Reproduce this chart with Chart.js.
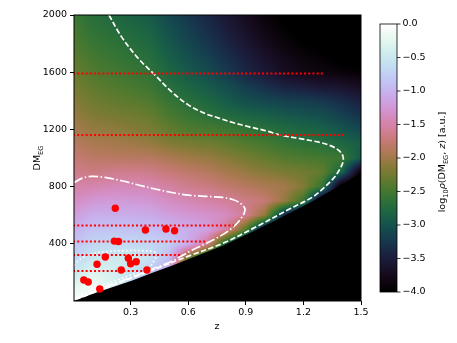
<!DOCTYPE html>
<html>
<head>
<meta charset="utf-8">
<script src="https://cdn.jsdelivr.net/npm/chart.js@4.4.1/dist/chart.umd.min.js"></script>
<style>
  html, body { margin: 0; padding: 0; background: #fff; }
</style>
</head>
<body>
<canvas id="dmChart" width="457" height="343"></canvas>
<script>
// axis ticks
const zTicks = [0.3, 0.6, 0.9, 1.2, 1.5];
const dmTicks = [400, 800, 1200, 1600, 2000];
const cbTicks = [0, -0.5, -1, -1.5, -2, -2.5, -3, -3.5, -4];

// log10 density grid: one row per DM value, one column per z value
const gridZ = [0, 0.1, 0.2, 0.3, 0.4, 0.5, 0.6, 0.7, 0.8, 0.9, 1.0, 1.1, 1.2, 1.3, 1.4, 1.5];
const gridDM = [0, 100, 200, 300, 400, 500, 600, 700, 800, 900, 1000, 1100, 1200, 1300, 1400, 1500, 1600, 1700, 1800, 1900, 2000];
const logDensity = [
  [0.00, -0.30, -0.50, -0.70, -0.80, -1.20, -2.60, -3.00, -3.30, -3.60, -3.70, -3.80, -4.00, -4.00, -4.10, -4.20],
  [-0.22, -0.12, -0.30, -0.70, -0.80, -1.20, -2.60, -3.00, -3.30, -3.60, -3.70, -3.80, -4.00, -4.00, -4.10, -4.20],
  [-0.50, -0.30, -0.37, -0.55, -0.80, -1.20, -2.60, -3.00, -3.30, -3.60, -3.70, -3.80, -4.00, -4.00, -4.10, -4.20],
  [-0.70, -0.52, -0.47, -0.45, -0.56, -0.92, -2.30, -3.00, -3.30, -3.60, -3.70, -3.80, -4.00, -4.00, -4.10, -4.20],
  [-0.87, -0.70, -0.67, -0.67, -0.69, -0.78, -1.04, -1.60, -2.90, -3.60, -3.70, -3.80, -4.00, -4.00, -4.10, -4.20],
  [-1.03, -0.87, -0.86, -0.87, -0.89, -0.98, -1.05, -1.16, -1.55, -2.40, -3.70, -3.80, -4.00, -4.00, -4.10, -4.20],
  [-1.20, -1.05, -1.04, -1.05, -1.08, -1.18, -1.25, -1.30, -1.38, -1.60, -2.10, -3.40, -4.00, -4.00, -4.10, -4.20],
  [-1.37, -1.25, -1.22, -1.23, -1.26, -1.36, -1.44, -1.50, -1.58, -1.66, -1.75, -2.05, -2.55, -4.00, -4.10, -4.20],
  [-1.51, -1.47, -1.42, -1.42, -1.44, -1.54, -1.62, -1.68, -1.78, -1.86, -1.93, -1.98, -2.16, -2.60, -4.10, -4.20],
  [-1.63, -1.68, -1.64, -1.62, -1.64, -1.73, -1.80, -1.86, -1.96, -2.05, -2.13, -2.20, -2.25, -2.33, -2.85, -4.00],
  [-1.74, -1.82, -1.84, -1.85, -1.86, -1.93, -2.00, -2.05, -2.14, -2.23, -2.31, -2.40, -2.45, -2.49, -2.55, -2.95],
  [-1.85, -1.94, -1.97, -2.01, -2.06, -2.16, -2.21, -2.25, -2.33, -2.41, -2.49, -2.58, -2.64, -2.69, -2.80, -2.90],
  [-1.96, -2.06, -2.09, -2.14, -2.19, -2.33, -2.43, -2.47, -2.53, -2.61, -2.68, -2.76, -2.82, -2.87, -2.99, -3.11],
  [-2.05, -2.17, -2.21, -2.26, -2.31, -2.46, -2.58, -2.66, -2.76, -2.83, -2.88, -2.95, -3.00, -3.05, -3.17, -3.30],
  [-2.13, -2.26, -2.32, -2.37, -2.43, -2.58, -2.70, -2.80, -2.92, -3.04, -3.11, -3.16, -3.20, -3.24, -3.35, -3.48],
  [-2.21, -2.34, -2.41, -2.47, -2.54, -2.70, -2.82, -2.92, -3.05, -3.20, -3.32, -3.45, -3.50, -3.58, -3.62, -3.70],
  [-2.28, -2.42, -2.49, -2.55, -2.63, -2.80, -2.94, -3.06, -3.22, -3.40, -3.55, -3.70, -3.80, -3.85, -3.90, -3.95],
  [-2.35, -2.49, -2.56, -2.63, -2.71, -2.88, -3.03, -3.16, -3.32, -3.48, -3.64, -3.78, -3.88, -3.95, -4.05, -4.10],
  [-2.42, -2.56, -2.63, -2.70, -2.78, -2.96, -3.11, -3.25, -3.42, -3.58, -3.74, -3.88, -3.98, -4.05, -4.15, -4.29],
  [-2.48, -2.63, -2.71, -2.77, -2.85, -3.03, -3.18, -3.33, -3.50, -3.66, -3.83, -3.96, -4.05, -4.12, -4.27, -4.44],
  [-2.54, -2.69, -2.77, -2.85, -2.93, -3.10, -3.25, -3.40, -3.57, -3.73, -3.90, -4.03, -4.11, -4.22, -4.39, -4.56]
];

// lower cut-off of the distribution (black below)
const edgeZ = [0, 0.1, 0.2, 0.305, 0.41, 0.514, 0.61, 0.783, 0.957, 1.13, 1.25, 1.428, 1.5];
const edgeDM = [0, 49, 95, 142, 196, 247, 298, 388, 498, 615, 700, 836, 900];

// contours
const outerZ = [0.187, 0.253, 0.340, 0.427, 0.514, 0.602, 0.688, 0.755, 0.832, 0.918, 1.006, 1.080, 1.183, 1.288, 1.358, 1.398, 1.408, 1.393, 1.358, 1.305, 1.253, 1.183, 1.130, 0.957, 0.783, 0.608, 0.410, 0.200, 0.020];
const outerDM = [2000, 1847, 1696, 1580, 1463, 1370, 1311, 1281, 1248, 1218, 1190, 1160, 1135, 1108, 1076, 1034, 988, 930, 860, 790, 731, 680, 645, 521, 405, 317, 215, 108, 14];
const midZ = [0.005, 0.050, 0.096, 0.166, 0.253, 0.340, 0.427, 0.514, 0.602, 0.700, 0.780, 0.835, 0.875, 0.896, 0.870, 0.817, 0.748, 0.678, 0.608, 0.514, 0.410, 0.305, 0.200, 0.100, 0.020];
const midDM = [828, 860, 871, 864, 841, 811, 783, 759, 740, 731, 724, 708, 680, 638, 568, 498, 440, 393, 347, 278, 222, 166, 115, 64, 20];
const innerZ = [0.005, 0.030, 0.060, 0.096, 0.166, 0.250, 0.305, 0.360, 0.410, 0.436, 0.441, 0.430, 0.400, 0.350, 0.300, 0.236, 0.166, 0.096, 0.035, 0.005];
const innerDM = [250, 285, 310, 328, 345, 352, 353, 352, 347, 335, 318, 300, 240, 205, 180, 150, 118, 82, 40, 15];

// FRBs
const frbZ = [0.220, 0.377, 0.484, 0.529, 0.215, 0.237, 0.168, 0.125, 0.288, 0.300, 0.329, 0.251, 0.385, 0.056, 0.079, 0.139];
const frbDM = [649, 496, 503, 491, 419, 416, 308, 257, 299, 260, 274, 217, 217, 147, 133, 84];

// DM-only events: DM and the largest z allowed
const limitDM = [1591, 1160, 528, 416, 321, 210];
const limitZ = [1.305, 1.419, 0.838, 0.69, 0.56, 0.40];

const VMIN = -4, VMAX = 0;
const FONT = '"DejaVu Sans", sans-serif';

// matplotlib 'cubehelix' colormap
function cubehelix(t) {
    t = Math.min(Math.max(t, 0), 1);
    const phi = 2 * Math.PI * (0.5 / 3 - 1.5 * t);
    const a = t * (1 - t) / 2;
    const c = Math.cos(phi), s = Math.sin(phi);
    const r = t + a * (-0.14861 * c + 1.78277 * s);
    const g = t + a * (-0.29227 * c - 0.90649 * s);
    const b = t + a * (1.97294 * c);
    return [r, g, b].map(v => Math.round(255 * Math.min(Math.max(v, 0), 1)));
}
const lut = [];
for (let i = 0; i < 256; i++) lut.push(cubehelix(i / 255));
function colorOf(v) {
    let i = Math.floor((v - VMIN) / (VMAX - VMIN) * 256);
    i = Math.min(Math.max(i, 0), 255);
    return lut[i];
}

function locate(arr, v) {
    let i = 0;
    while (i < arr.length - 2 && v > arr[i + 1]) i++;
    let f = (v - arr[i]) / (arr[i + 1] - arr[i]);
    return [i, Math.min(Math.max(f, 0), 1)];
}

function sampleGrid(z, dm) {
    const [i, fx] = locate(gridZ, z);
    const [j, fy] = locate(gridDM, dm);
    const v00 = logDensity[j][i], v10 = logDensity[j][i + 1];
    const v01 = logDensity[j + 1][i], v11 = logDensity[j + 1][i + 1];
    return (v00 * (1 - fx) + v10 * fx) * (1 - fy) + (v01 * (1 - fx) + v11 * fx) * fy;
}

// rich text: parts with optional italic (i) and subscript (s)
function drawRich(ctx, parts, x, y, size, vertical) {
    ctx.save();
    ctx.translate(x, y);
    if (vertical) ctx.rotate(-Math.PI / 2);
    const fontFor = p => (p.i ? 'italic ' : '') + (p.s ? size * 0.7 : size) + 'px ' + FONT;
    let total = 0;
    parts.forEach(p => { ctx.font = fontFor(p); total += ctx.measureText(p.t).width; });
    let cx = -total / 2;
    ctx.fillStyle = '#000';
    ctx.textBaseline = 'alphabetic';
    ctx.textAlign = 'left';
    parts.forEach(p => {
        ctx.font = fontFor(p);
        ctx.fillText(p.t, cx, size * 0.36 + (p.s ? size * 0.22 : 0));
        cx += ctx.measureText(p.t).width;
    });
    ctx.restore();
}

const heatmapPlugin = {
    id: 'heatmap',
    beforeDatasetsDraw(chart) {
        const { ctx, chartArea: a, scales: { x, y } } = chart;
        const w = Math.round(a.right - a.left), h = Math.round(a.bottom - a.top);
        const off = document.createElement('canvas');
        off.width = w; off.height = h;
        const octx = off.getContext('2d');
        const img = octx.createImageData(w, h);
        for (let j = 0; j < h; j++) {
            const dm = y.getValueForPixel(a.top + j + 0.5);
            for (let i = 0; i < w; i++) {
                const z = x.getValueForPixel(a.left + i + 0.5);
                const c = colorOf(sampleGrid(z, dm));
                const k = (j * w + i) * 4;
                img.data[k] = c[0]; img.data[k + 1] = c[1]; img.data[k + 2] = c[2]; img.data[k + 3] = 255;
            }
        }
        octx.putImageData(img, 0, 0);
        ctx.drawImage(off, a.left, a.top);
    },
    afterDraw(chart) {
        const { ctx, chartArea: a } = chart;
        // frame
        ctx.save();
        ctx.strokeStyle = '#000';
        ctx.lineWidth = 1;
        ctx.strokeRect(a.left, a.top, a.right - a.left, a.bottom - a.top);

        // colorbar
        const bx0 = 380, bx1 = 397, by0 = 24, by1 = 292;
        for (let py = by0; py < by1; py++) {
            const v = VMAX - (py + 0.5 - by0) / (by1 - by0) * (VMAX - VMIN);
            const c = colorOf(v);
            ctx.fillStyle = 'rgb(' + c.join(',') + ')';
            ctx.fillRect(bx0, py, bx1 - bx0, 1);
        }
        ctx.lineWidth = 0.8;
        ctx.strokeRect(bx0, by0, bx1 - bx0, by1 - by0);
        ctx.font = '9.5px ' + FONT;
        ctx.fillStyle = '#000';
        ctx.textAlign = 'left';
        ctx.textBaseline = 'middle';
        cbTicks.forEach(v => {
            const py = by0 + (VMAX - v) / (VMAX - VMIN) * (by1 - by0);
            ctx.beginPath();
            ctx.moveTo(bx1, py);
            ctx.lineTo(bx1 + 3.5, py);
            ctx.stroke();
            const label = (v < 0 ? '\u2212' : '') + Math.abs(v).toFixed(1);
            ctx.fillText(label, bx1 + 5.5, py);
        });
        ctx.restore();

        // axis titles
        drawRich(ctx, [{ t: 'z' }], 217, 326, 9.5, false);
        drawRich(ctx, [{ t: 'DM' }, { t: 'EG', s: true }], 37, 158, 9.5, true);
        drawRich(ctx, [
            { t: 'log' }, { t: '10', s: true }, { t: '\u03c1', i: true }, { t: '(DM' },
            { t: 'EG', s: true }, { t: ', ' }, { t: 'z', i: true }, { t: ') [a.u.]' }
        ], 442, 162, 9.5, true);
    }
};

const pts = (zs, ds) => zs.map((z, i) => ({ x: z, y: ds[i] }));

const contour = (zs, ds, dash) => ({
    type: 'line',
    data: pts(zs, ds),
    borderColor: '#fff',
    borderWidth: 1.7,
    borderDash: dash,
    pointRadius: 0,
    tension: 0.35,
    fill: false,
    order: 5
});

const limitLines = limitDM.map((dm, i) => ({
    type: 'line',
    data: [{ x: 0, y: dm }, { x: limitZ[i], y: dm }],
    borderColor: '#ff0000',
    borderWidth: 2,
    borderDash: [2, 2.2],
    pointRadius: 0,
    fill: false,
    order: 3
}));

const tickFont = { family: FONT, size: 9.5 };

new Chart(document.getElementById('dmChart'), {
    type: 'line',
    data: {
        datasets: [
            {
                type: 'line',
                data: pts(edgeZ, edgeDM),
                borderWidth: 0,
                pointRadius: 0,
                backgroundColor: '#000',
                fill: 'start',
                order: 10
            },
            contour(outerZ, outerDM, [5.5, 2.4]),
            contour(midZ, midDM, [9.6, 2.4, 1.5, 2.4]),
            contour(innerZ, innerDM, [1.5, 2.5]),
            ...limitLines,
            {
                type: 'scatter',
                data: pts(frbZ, frbDM),
                pointRadius: 3.7,
                pointBackgroundColor: '#ff0000',
                pointBorderWidth: 0,
                showLine: false,
                order: 1
            }
        ]
    },
    options: {
        responsive: false,
        animation: false,
        devicePixelRatio: 1,
        events: [],
        layout: { padding: { left: 0, right: 96, top: 15, bottom: 0 } },
        plugins: { legend: { display: false }, tooltip: { enabled: false } },
        scales: {
            x: {
                type: 'linear',
                min: 0.005,
                max: 1.5,
                afterBuildTicks: s => { s.ticks = zTicks.map(v => ({ value: v })); },
                afterFit: s => { s.height = 42; },
                grid: { drawOnChartArea: false, drawTicks: true, tickLength: 4, color: '#000' },
                border: { display: false },
                ticks: { font: tickFont, color: '#000', padding: 2, maxRotation: 0, callback: v => v.toFixed(1) }
            },
            y: {
                type: 'linear',
                min: 0,
                max: 2000,
                afterBuildTicks: s => { s.ticks = dmTicks.map(v => ({ value: v })); },
                afterFit: s => { s.width = 74; },
                grid: { drawOnChartArea: false, drawTicks: true, tickLength: 4, color: '#000' },
                border: { display: false },
                ticks: { font: tickFont, color: '#000', padding: 3, callback: v => String(v) }
            }
        }
    },
    plugins: [heatmapPlugin]
});
</script>
</body>
</html>
